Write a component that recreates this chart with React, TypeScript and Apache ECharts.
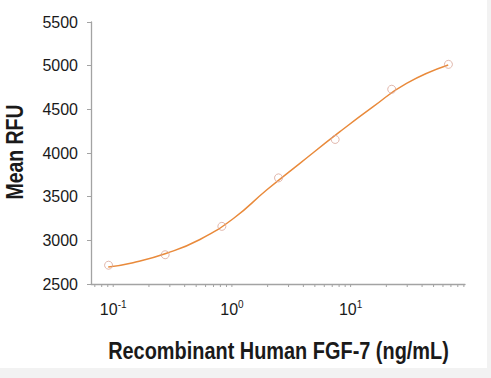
import React, { useEffect, useRef } from "react";
import * as echarts from "echarts";

const concentrations = [0.0914, 0.274, 0.823, 2.47, 7.41, 22.2, 66.7];
const meanRFU = [2715, 2835, 3160, 3715, 4155, 4730, 5015];

const fitX = [0.0908, 0.147, 0.282, 0.538, 1.03, 1.96, 3.74, 8.13, 15.5, 29.6, 66.4];
const fitY = [2695, 2744, 2852, 3010, 3250, 3576, 3882, 4244, 4530, 4798, 5008];

const xTicks = [0.07, 0.08, 0.09, 0.1, 0.2, 0.3, 0.4, 0.5, 0.6, 0.7, 0.8, 0.9, 1, 2, 3, 4, 5, 6, 7, 8, 9, 10, 20, 30, 40, 50, 60, 70, 80, 90];
const yTicks = [2500, 3000, 3500, 4000, 4500, 5000, 5500];

const xTitle = "Recombinant Human FGF-7 (ng/mL)";
const yTitle = "Mean RFU";

const FONT = "'Liberation Sans', Arial, sans-serif";
const AXIS_COLOR = "#a3a3a3";
const TEXT = "#1a1a1a";

export default function App() {
  const ref = useRef<HTMLDivElement>(null);
  useEffect(() => {
    if (!ref.current) return;
    const chart = echarts.init(ref.current, undefined, { renderer: "svg" });
    chart.setOption({
      animation: false,
      backgroundColor: "#ffffff",
      graphic: [
        { type: "rect", shape: { x: 487, y: 0, width: 4, height: 378 }, style: { fill: "#f2f2f2" }, silent: true },
        { type: "rect", shape: { x: 0, y: 368, width: 491, height: 10 }, style: { fill: "#f2f2f2" }, silent: true },
        {
          type: "text",
          x: 278.5,
          y: 351,
          scaleX: 0.83,
          style: {
            text: xTitle,
            fontFamily: FONT,
            fontWeight: "bold",
            fontSize: 24,
            fill: TEXT,
            align: "center",
            verticalAlign: "middle",
          },
        },
        {
          type: "text",
          x: 15,
          y: 152,
          rotation: Math.PI / 2,
          scaleX: 0.81,
          style: {
            text: yTitle,
            fontFamily: FONT,
            fontWeight: "bold",
            fontSize: 24,
            fill: TEXT,
            align: "center",
            verticalAlign: "middle",
          },
        },
      ],
      grid: { left: 91, right: 26, top: 22, bottom: 94, outerBoundsMode: "none", containLabel: false },
      xAxis: {
        type: "log",
        logBase: 10,
        min: 0.065,
        max: 92,
        axisLine: { show: true, lineStyle: { color: AXIS_COLOR, width: 1.3 } },
        axisTick: { show: false },
        splitLine: { show: false },
        axisLabel: {
          showMinLabel: false,
          showMaxLabel: false,
          margin: 15,
          formatter: (v: number) => {
            const e = Math.round(Math.log10(v));
            return `{b|10}{s|${e}}`;
          },
          rich: {
            b: { fontFamily: FONT, fontSize: 16, color: TEXT, lineHeight: 20 },
            s: { fontFamily: FONT, fontSize: 10, color: TEXT, verticalAlign: "top", lineHeight: 11 },
          },
        },
      },
      yAxis: {
        type: "value",
        min: yTicks[0],
        max: yTicks[yTicks.length - 1],
        interval: 500,
        axisLine: { show: true, lineStyle: { color: AXIS_COLOR, width: 1.3 } },
        axisTick: { show: true, length: 4, lineStyle: { color: AXIS_COLOR } },
        splitLine: { show: false },
        axisLabel: {
          fontFamily: FONT,
          fontSize: 16,
          color: TEXT,
          margin: 13,
          formatter: (v: number) => String(v),
        },
      },
      series: [
        {
          type: "line",
          data: fitX.map((x, i) => [x, fitY[i]]),
          smooth: 0.5,
          showSymbol: false,
          lineStyle: { color: "#e98a3b", width: 1.5 },
          z: 2,
        },
        {
          type: "scatter",
          data: concentrations.map((x, i) => [x, meanRFU[i]]),
          symbol: "circle",
          symbolSize: 8,
          itemStyle: { color: "rgba(255,255,255,0)", borderColor: "#d9a597", borderWidth: 1 },
          z: 3,
        },
        {
          type: "custom",
          data: xTicks.map((t) => [t, yTicks[0]]),
          clip: false,
          silent: true,
          renderItem: (params: any, api: any) => {
            const p = api.coord([api.value(0), api.value(1)]);
            return {
              type: "line",
              shape: { x1: p[0], y1: p[1], x2: p[0], y2: p[1] + 3 },
              style: { stroke: AXIS_COLOR, lineWidth: 1 },
            };
          },
          z: 1,
        },
      ],
    });
    return () => chart.dispose();
  }, []);
  return (
    <div
      ref={ref}
      style={{ position: "absolute", left: 0, top: 0, width: 491, height: 378 }}
    />
  );
}
